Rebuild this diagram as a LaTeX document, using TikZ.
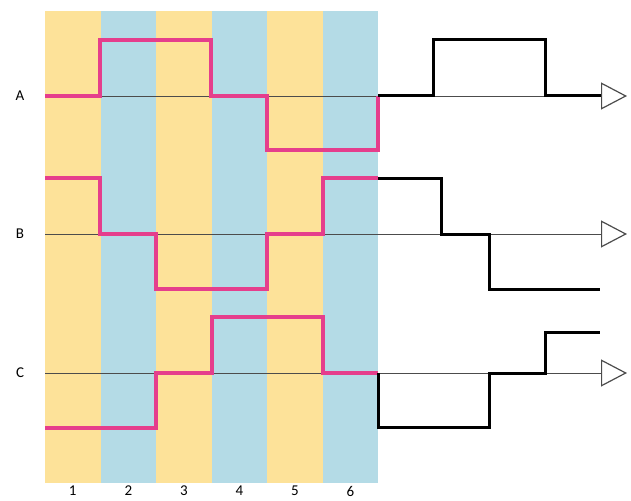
\documentclass[tikz,border=0pt]{standalone}
\usepackage{fontspec}
\setmainfont{Carlito}
\usetikzlibrary{arrows.meta}
\definecolor{stripeyellow}{RGB}{253,226,153}
\definecolor{stripeblue}{RGB}{180,219,230}
\definecolor{wavepink}{RGB}{229,62,140}

\begin{document}
\begin{tikzpicture}[x=1pt,y=-1pt]
\tikzstyle{axis}=[draw=black!70,line width=0.8pt,-{Triangle[open,fill=white,length=26pt,width=27pt,line width=1.2pt]}]
\tikzstyle{pinkwave}=[draw=wavepink,line width=3.2pt]
\tikzstyle{blackwave}=[draw=black,line width=3pt]
\tikzstyle{lbl}=[font=\fontsize{15}{17}\selectfont,inner sep=0pt]
\useasboundingbox (0,0) rectangle (631,500);
% stripes and their numbers
\foreach \i/\col in {1/stripeyellow,2/stripeblue,3/stripeyellow,4/stripeblue,5/stripeyellow,6/stripeblue} {
	\fill[\col] ({45+(\i-1)*55.55},11) rectangle ({45+\i*55.55},483);
	\node[lbl] (n\i) at ({45+(\i-0.5)*55.55},491) {\i};
}
% axes
\foreach \name/\y in {A/96,B/234,C/373} {
	\coordinate (\name s) at (45,\y);
	\coordinate (\name e) at (627,\y);
	\node[lbl] (lab\name) at (20,\y) {\name};
	\draw[axis] (\name s) -- (\name e);
}
% input waves
\draw[pinkwave] (45,96) -| (100,40) -| (211,96) -| (267,150) -| (378,96);
\draw[pinkwave] (45,178) -| (100,234) -| (156,289) -| (267,234) -| (323,178) -- (378,178);
\draw[pinkwave] (45,428) -| (156,373) -| (212,317) -| (323,373) -- (378,373);
% output waves
\draw[blackwave] (378,96) -| (433,40) -| (545,96) -- (601,96);
\draw[blackwave] (378,178) -| (441,234) -| (489,289) -- (600,289);
\draw[blackwave] (378,373) |- (489,427) |- (545,373) |- (600,332);
\end{tikzpicture}
\end{document}
